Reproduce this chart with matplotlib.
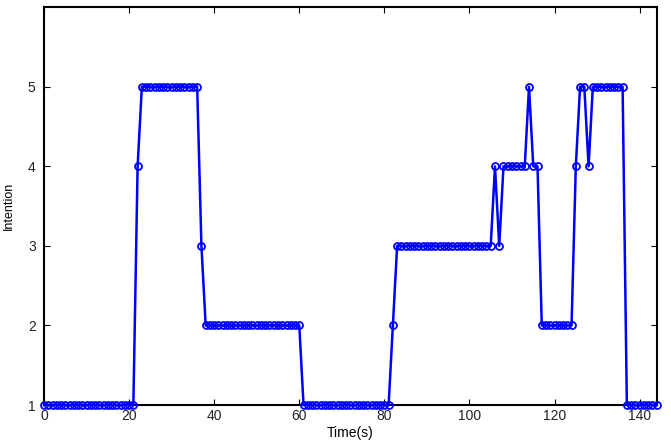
import numpy as np
import matplotlib
matplotlib.use("Agg")
import matplotlib.pyplot as plt

plt.rcParams['font.family'] = ['Liberation Sans', 'DejaVu Sans']

# intention level sampled once per second (t = 0 .. 144 s)
intention = [
    1, 1, 1, 1, 1, 1, 1, 1, 1, 1, 1, 1, 1, 1, 1, 1, 1, 1, 1, 1, 1, 1,
    4,
    5, 5, 5, 5, 5, 5, 5, 5, 5, 5, 5, 5, 5, 5,
    3,
    2, 2, 2, 2, 2, 2, 2, 2, 2, 2, 2, 2, 2, 2, 2, 2, 2, 2, 2, 2, 2, 2, 2,
    1, 1, 1, 1, 1, 1, 1, 1, 1, 1, 1, 1, 1, 1, 1, 1, 1, 1, 1, 1, 1,
    2,
    3, 3, 3, 3, 3, 3, 3, 3, 3, 3, 3, 3, 3, 3, 3, 3, 3, 3, 3, 3, 3, 3, 3,
    4, 3,
    4, 4, 4, 4, 4, 4,
    5,
    4, 4,
    2, 2, 2, 2, 2, 2, 2, 2,
    4, 5, 5, 4,
    5, 5, 5, 5, 5, 5, 5, 5,
    1, 1, 1, 1, 1, 1, 1, 1,
]
time_s = np.arange(len(intention))

xticks = [0, 20, 40, 60, 80, 100, 120, 140]
yticks = [1, 2, 3, 4, 5]

fig = plt.figure(figsize=(6.71, 4.41), dpi=100)
ax = fig.add_axes([0.0656, 0.0816, 0.913, 0.902])

ax.plot(time_s, intention, '-o', color='blue', lw=1.8,
        markersize=5, markerfacecolor='none', markeredgewidth=1.3,
        clip_on=False, zorder=3)

ax.set_xlim(0, 144)
ax.set_ylim(1, 6)
ax.set_xticks(xticks)
ax.set_yticks(yticks)
ax.tick_params(direction='in', top=True, right=True, length=4,
               width=0.8, labelsize=10, labelcolor='#222222')
ax.tick_params(axis='x', pad=3)
ax.tick_params(axis='y', pad=6)
for s in ax.spines.values():
    s.set_linewidth(1.5)

ax.set_xlabel("Time(s)", fontsize=10, labelpad=2)
ax.set_ylabel("Intention", fontsize=9, labelpad=9)

fig.savefig('out.png', dpi=100)
